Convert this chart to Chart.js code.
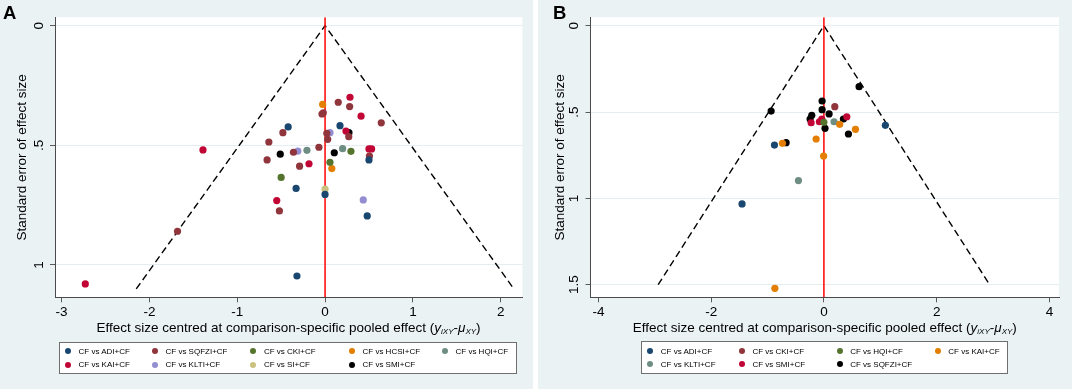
<!DOCTYPE html>
<html>
<head>
<meta charset="utf-8">
<script src="https://cdn.jsdelivr.net/npm/chart.js@4.4.1/dist/chart.umd.min.js"></script>
<style>
  body { margin: 0; background: #fff; font-family: 'Liberation Sans', Arial, sans-serif; }
  .panel { position: absolute; top: 0; height: 389px; background: #eaf2f3; overflow: hidden; }
  .panel canvas { position: absolute; left: 0; top: 0; }
  .tag { position: absolute; top: 3.6px; font-weight: bold; font-size: 18.5px; line-height: 18.5px; color: #000; }
  .xtitle { position: absolute; top: 320px; font-size: 13.5px; line-height: 15px; text-align: center; color: #000; white-space: nowrap; }
  .xtitle sub { font-size: 8px; font-style: italic; vertical-align: -2px; }
  .legend { position: absolute; background: #fff; border: 1px solid #6f6f6f; box-sizing: border-box; }
  .item { position: absolute; font-size: 8px; line-height: 9px; white-space: nowrap; color: #000; }
  .item .dot { display: inline-block; width: 6px; height: 6px; border-radius: 50%; margin-right: 7.5px; vertical-align: -0.5px; }
</style>
</head>
<body>
<div class="panel" id="pA" style="left:0; width:533px;">
  <canvas id="cA" width="533" height="389"></canvas>
  <div class="tag" style="left:3px;">A</div>
  <div class="xtitle" style="left:55px; width:467px;">Effect size centred at comparison-specific pooled effect (<i>y</i><sub>iXY</sub>-<i>μ</i><sub>XY</sub>)</div>
  <div class="legend" id="lgA" style="left:59px; top:341.7px; width:458px; height:32.6px;"></div>
</div>
<div class="panel" id="pB" style="left:538px; width:534px;">
  <canvas id="cB" width="534" height="389"></canvas>
  <div class="tag" style="left:15px;">B</div>
  <div class="xtitle" style="left:52.5px; width:468.5px;">Effect size centred at comparison-specific pooled effect (<i>y</i><sub>iXY</sub>-<i>μ</i><sub>XY</sub>)</div>
  <div class="legend" id="lgB" style="left:102.6px; top:341.3px; width:367.4px; height:32.7px;"></div>
</div>
<script>
// ---- panel A data: [effect size centred, standard error]
const adiA = [[-0.42, 0.423], [0.17, 0.418], [0.50, 0.561], [-0.33, 0.680], [0.00, 0.705], [0.48, 0.795], [-0.32, 1.046]];
const sqfziA = [[0.15, 0.320], [0.28, 0.338], [-0.02, 0.364], [-0.035, 0.369], [0.64, 0.406], [-0.48, 0.447], [0.02, 0.450],
  [0.27, 0.464], [0.03, 0.475], [-0.64, 0.486], [-0.07, 0.508], [-0.36, 0.529], [0.505, 0.545], [-0.66, 0.561],
  [-0.29, 0.587], [-0.52, 0.774], [-1.68, 0.859]];
const ckiA = [[0.295, 0.525], [0.056, 0.571], [-0.50, 0.634]];
const hcsiA = [[-0.027, 0.329], [0.077, 0.597]];
const hqiA = [[-0.206, 0.521], [0.20, 0.514]];
const kaiA = [[0.284, 0.299], [0.41, 0.378], [0.238, 0.440], [-1.39, 0.519], [0.50, 0.515], [0.53, 0.515],
  [-0.183, 0.577], [-0.55, 0.731], [-2.73, 1.079]];
const kltiA = [[0.056, 0.447], [-0.31, 0.524], [0.435, 0.728]];
const siA = [[0.00, 0.683]];
const smiA = [[0.272, 0.447], [-0.51, 0.537], [0.105, 0.531]];
const funnelA = [[-2.15, 1.10], [0, 0], [2.15, 1.10]];

// ---- panel B data
const adiB = [[1.09, 0.577], [-0.877, 0.691], [-1.452, 1.032]];
const ckiB = [[0.193, 0.469]];
const hqiB = [[0.00, 0.559]];
const kaiB = [[0.28, 0.571], [0.56, 0.600], [-0.138, 0.656], [-0.735, 0.681], [-0.005, 0.755], [-0.87, 1.521]];
const kltiB = [[0.18, 0.556], [-0.452, 0.897]];
const smiB = [[-0.227, 0.562], [-0.08, 0.556], [-0.037, 0.540], [0.406, 0.527]];
const sqfziB = [[0.624, 0.353], [-0.936, 0.494], [-0.032, 0.436], [-0.032, 0.486], [0.092, 0.511], [-0.215, 0.519],
  [-0.245, 0.540], [0.346, 0.540], [0.02, 0.594], [0.435, 0.627], [-0.67, 0.677]];
const funnelB = [[-2.94, 1.50], [0, 0], [2.94, 1.50]];

// ---- axes
const xTicksA = [-3, -2, -1, 0, 1, 2];
const yTicksA = [0, 0.5, 1];
const xRangeA = [-3.075, 2.247];
const yRangeA = [-0.035, 1.135];
const xTicksB = [-4, -2, 0, 2, 4];
const yTicksB = [0, 0.5, 1, 1.5];
const xRangeB = [-4.14, 4.17];
const yRangeB = [-0.049, 1.573];

// ---- legend labels
const namesA = ['CF vs ADI+CF', 'CF vs SQFZI+CF', 'CF vs CKI+CF', 'CF vs HCSI+CF', 'CF vs HQI+CF',
  'CF vs KAI+CF', 'CF vs KLTI+CF', 'CF vs SI+CF', 'CF vs SMI+CF'];
const namesB = ['CF vs ADI+CF', 'CF vs CKI+CF', 'CF vs HQI+CF', 'CF vs KAI+CF',
  'CF vs KLTI+CF', 'CF vs SMI+CF', 'CF vs SQFZI+CF'];

// stata s2color-like palette
const NAVY = '#1a476f', MAROON = '#90353b', FOREST = '#55752f', DKORANGE = '#e37e00',
  TEAL = '#6e8e84', CRANBERRY = '#c10534', LAVENDER = '#938dd2', KHAKI = '#cac27e', BLACK = '#000000';

const FONT = "'Liberation Sans', Arial, sans-serif";

const stataPlugin = {
  id: 'stata',
  beforeDraw(chart) {
    const a = chart.chartArea, ctx = chart.ctx;
    ctx.save();
    ctx.fillStyle = '#ffffff';
    ctx.fillRect(a.left, a.top, a.right - a.left, a.bottom - a.top);
    ctx.restore();
  },
  afterDraw(chart, args, opts) {
    // y tick labels turned like stata's
    const ctx = chart.ctx, y = chart.scales.y, a = chart.chartArea;
    ctx.save();
    ctx.fillStyle = '#000';
    ctx.font = '13.5px ' + FONT;
    ctx.textAlign = 'center';
    ctx.textBaseline = 'middle';
    opts.ticks.forEach(v => {
      const label = v === 0 ? '0' : String(v).replace(/^0\./, '.');
      ctx.save();
      ctx.translate(a.left - 16, y.getPixelForValue(v));
      ctx.rotate(-Math.PI / 2);
      ctx.fillText(label, 0, 0);
      ctx.restore();
    });
    ctx.restore();
  }
};

function toXY(arr) { return arr.map(p => ({ x: p[0], y: p[1] })); }

function makeChart(id, groups, names, colors, funnel, xTicks, yTicks, xRange, yRange, yAxisWidth, padRight) {
  const datasets = groups.map((g, i) => ({
    label: names[i],
    data: toXY(g),
    backgroundColor: colors[i],
    borderColor: colors[i],
    pointRadius: 3.6,
    pointBorderWidth: 0,
    order: 1
  }));
  datasets.push({
    label: 'funnel',
    data: toXY(funnel),
    showLine: true,
    borderColor: '#000',
    borderWidth: 1.4,
    borderDash: [7, 4],
    pointRadius: 0,
    order: 5
  });
  datasets.push({
    label: 'pooled',
    data: [{ x: 0, y: yRange[0] }, { x: 0, y: yRange[1] }],
    showLine: true,
    borderColor: '#ff0000',
    borderWidth: 1.5,
    pointRadius: 0,
    order: 4
  });

  return new Chart(document.getElementById(id), {
    type: 'scatter',
    data: { datasets },
    plugins: [stataPlugin],
    options: {
      responsive: false,
      animation: false,
      events: [],
      layout: { padding: { top: 17.3, left: 0, right: padRight, bottom: 389 - 297.3 - 24 } },
      plugins: {
        legend: { display: false },
        tooltip: { enabled: false },
        stata: { ticks: yTicks }
      },
      scales: {
        x: {
          type: 'linear',
          min: xRange[0], max: xRange[1],
          afterBuildTicks: s => { s.ticks = xTicks.map(v => ({ value: v })); },
          afterFit: s => { s.height = 24; },
          grid: { drawOnChartArea: false, tickLength: 5, tickColor: '#5a5a5a' },
          border: { color: '#4a4a4a', width: 1 },
          ticks: { color: '#000', font: { family: FONT, size: 13.5 }, padding: 2, maxRotation: 0, autoSkip: false }
        },
        y: {
          type: 'linear',
          reverse: true,
          min: yRange[0], max: yRange[1],
          afterBuildTicks: s => { s.ticks = yTicks.map(v => ({ value: v })); },
          afterFit: s => { s.width = yAxisWidth; },
          grid: { color: '#e4eef0', tickLength: 5, tickColor: '#5a5a5a' },
          border: { color: '#4a4a4a', width: 1 },
          ticks: { display: false },
          title: {
            display: true, text: 'Standard error of effect size', color: '#000',
            font: { family: FONT, size: 13.5 }, padding: { top: 14, bottom: 0 }
          }
        }
      }
    }
  });
}

function makeLegend(id, names, colors, cols, colX, rowY) {
  const box = document.getElementById(id);
  names.forEach((n, i) => {
    const el = document.createElement('div');
    el.className = 'item';
    el.style.left = (colX[i % cols] - 3) + 'px';
    el.style.top = (rowY[Math.floor(i / cols)] - 5) + 'px';
    el.innerHTML = '<span class="dot" style="background:' + colors[i] + '"></span>' + n;
    box.appendChild(el);
  });
}

const colorsA = [NAVY, MAROON, FOREST, DKORANGE, TEAL, CRANBERRY, LAVENDER, KHAKI, BLACK];
const colorsB = [NAVY, MAROON, FOREST, DKORANGE, TEAL, CRANBERRY, BLACK];

makeChart('cA', [adiA, sqfziA, ckiA, hcsiA, hqiA, kaiA, kltiA, siA, smiA], namesA, colorsA,
  funnelA, xTicksA, yTicksA, xRangeA, yRangeA, 55, 533 - 522.4);
makeChart('cB', [adiB, ckiB, hqiB, kaiB, kltiB, smiB, sqfziB], namesB, colorsB,
  funnelB, xTicksB, yTicksB, xRangeB, yRangeB, 52.5, 534 - 521);

makeLegend('lgA', namesA, colorsA, 5, [8, 95, 193.4, 292, 385], [9.3, 22.6]);
makeLegend('lgB', namesB, colorsB, 4, [8.7, 100.3, 198.1, 296.2], [9.3, 22.6]);
</script>
</body>
</html>
